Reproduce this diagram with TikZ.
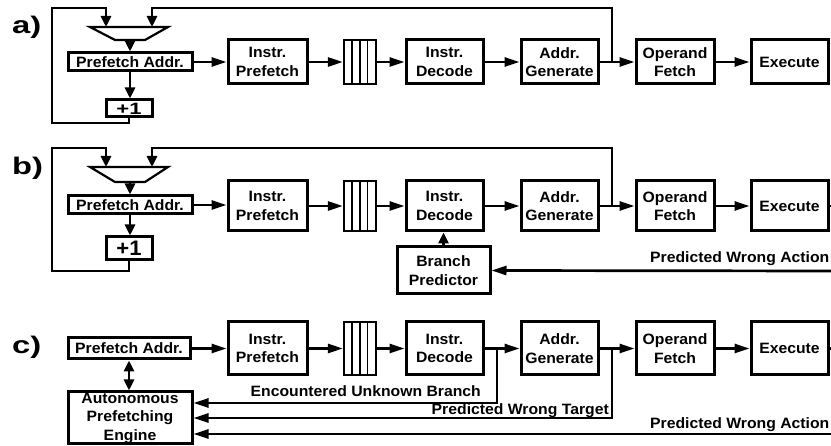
\documentclass[tikz,border=0pt]{standalone}
\usepackage{fontspec}
\setmainfont[FakeStretch=1.05]{Liberation Sans}
\usetikzlibrary{arrows.meta}

\begin{document}
\begin{tikzpicture}[x=1pt,y=-1pt,
  blk/.style={draw, line width=3pt, inner sep=0pt, align=center,
    font=\bfseries\fontsize{15}{18.5}\selectfont},
  inc/.style={blk, font=\bfseries\fontsize{21}{21}\selectfont},
  lbl/.style={inner sep=0pt, font=\bfseries\fontsize{15}{17}\selectfont},
  tag/.style={inner sep=0pt, font=\bfseries\fontsize{24}{24}\selectfont},
  wire/.style={line width=2.7pt},
  harr/.style={-{Triangle[length=15pt,width=9pt]}},
  varr/.style={-{Triangle[length=11pt,width=10pt]}},
  dbl/.style={{Triangle[length=11pt,width=10pt]}-{Triangle[length=11pt,width=10pt]}},
  muxline/.style={line width=2.2pt, line join=miter},
  queue/.style={draw, line width=2.2pt, inner sep=0pt, minimum width=32pt},
  qline/.style={line width=1.4pt}]

\useasboundingbox (0,0) rectangle (831,446);

% ---------------- a) ----------------
\node[tag, anchor=base west] (tag-a) at (12,34) {\scalebox{1.3}[1]{a)}};
\draw[muxline] (90,27) -- (168,27) -- (145,40) -- (115,40) -- cycle;
\coordinate (mi1-a) at (106,27);
\coordinate (mi2-a) at (152,27);
\coordinate (mo-a) at (130,40);
\node[blk, minimum width=124pt, minimum height=18pt] (pa-a) at (130,62) {Prefetch Addr.};
\node[inc, minimum width=46pt, minimum height=17pt] (inc-a) at (129,108.5) {\scalebox{1}[0.78]{+1}};
\node[blk, minimum width=79pt, minimum height=44pt] (ip-a) at (267.5,62) {Instr.\\Prefetch};
\node[queue, minimum height=44pt] (q-a) at (360,62) {};
\foreach \dx in {-8,0,7.5} \draw[qline] ([xshift=\dx pt]q-a.north) -- ([xshift=\dx pt]q-a.south);
\node[blk, minimum width=77pt, minimum height=44pt] (id-a) at (444.5,62) {Instr.\\Decode};
\node[blk, minimum width=77pt, minimum height=44pt] (ag-a) at (559.5,62) {Addr.\\Generate};
\node[blk, minimum width=78pt, minimum height=44pt] (of-a) at (675,62) {Operand\\Fetch};
\node[blk, minimum width=77pt, minimum height=44pt] (ex-a) at (789.5,62) {Execute};

\draw[wire,varr] (mo-a) -- (pa-a.north);
\draw[wire,varr] (pa-a.south) -- (pa-a.south |- inc-a.north);
\draw[wire,varr] (inc-a.south) -- (129,123) -- (52,123) -- (52,8) -- (106,8) -- (mi1-a);
\draw[wire,harr] (pa-a.east) -- (ip-a.west);
\draw[wire,harr] (ip-a.east) -- (q-a.west);
\draw[wire,harr] (q-a.east) -- (id-a.west);
\draw[wire,harr] (id-a.east) -- (ag-a.west);
\draw[wire,harr] (ag-a.east) -- (of-a.west);
\draw[wire,harr] (of-a.east) -- (ex-a.west);
\coordinate (fb-a) at (612,62);
\draw[wire,varr] (fb-a) -- (612,8) -- (152,8) -- (mi2-a);

% ---------------- b) ----------------
\node[tag, anchor=base west] (tag-b) at (12,175) {\scalebox{1.3}[1]{b)}};
\draw[muxline] (90,167) -- (168,167) -- (145,182) -- (115,182) -- cycle;
\coordinate (mi1-b) at (106,167);
\coordinate (mi2-b) at (152,167);
\coordinate (mo-b) at (130,182);
\node[blk, minimum width=124pt, minimum height=18pt] (pa-b) at (130,205) {Prefetch Addr.};
\node[inc, minimum width=46pt, minimum height=23pt] (inc-b) at (129,248.5) {+1};
\node[blk, minimum width=79pt, minimum height=50pt] (ip-b) at (267.5,206) {Instr.\\Prefetch};
\node[queue, minimum height=50pt] (q-b) at (360,206) {};
\foreach \dx in {-8,0,7.5} \draw[qline] ([xshift=\dx pt]q-b.north) -- ([xshift=\dx pt]q-b.south);
\node[blk, minimum width=77pt, minimum height=50pt] (id-b) at (444.5,206) {Instr.\\Decode};
\node[blk, minimum width=77pt, minimum height=50pt] (ag-b) at (559.5,206) {Addr.\\Generate};
\node[blk, minimum width=78pt, minimum height=50pt] (of-b) at (675,206) {Operand\\Fetch};
\node[blk, minimum width=77pt, minimum height=50pt] (ex-b) at (789.5,206) {Execute};
\node[blk, minimum width=93pt, minimum height=47pt] (bp) at (443.5,270.5) {Branch\\Predictor};

\draw[wire,varr] (mo-b) -- (pa-b.north);
\draw[wire,varr] (pa-b.south) -- (pa-b.south |- inc-b.north);
\draw[wire,varr] (inc-b.south) -- (129,271) -- (52,271) -- (52,148) -- (106,148) -- (mi1-b);
\draw[wire,harr] (pa-b.east) -- (pa-b.east -| ip-b.west);
\draw[wire,harr] (ip-b.east) -- (q-b.west);
\draw[wire,harr] (q-b.east) -- (id-b.west);
\draw[wire,harr] (id-b.east) -- (ag-b.west);
\draw[wire,harr] (ag-b.east) -- (of-b.west);
\draw[wire,harr] (of-b.east) -- (ex-b.west);
\coordinate (fb-b) at (612,206);
\draw[wire,varr] (fb-b) -- (612,148) -- (152,148) -- (mi2-b);
\draw[wire,varr] (bp.north) -- (bp.north |- id-b.south);
\coordinate (ex-b-out) at (833,206);
\draw[wire] (ex-b.east) -- (ex-b-out);
\coordinate (wa-b) at (833,271);
\draw[wire,harr] (wa-b) -- (bp.east);
\node[lbl, anchor=base west] (wa-b-lbl) at (650,263) {Predicted Wrong Action};

% ---------------- c) ----------------
\node[tag, anchor=base west] (tag-c) at (12,354) {\scalebox{1.3}[1]{c)}};
\node[blk, minimum width=122pt, minimum height=21pt] (pa-c) at (129,348.5) {Prefetch Addr.};
\node[blk, minimum width=124pt, minimum height=52pt] (ape) at (130,418) {Autonomous\\Prefetching\\Engine};
\node[blk, minimum width=79pt, minimum height=53pt] (ip-c) at (267.5,348.5) {Instr.\\Prefetch};
\node[queue, minimum height=53pt] (q-c) at (360,348.5) {};
\foreach \dx in {-8,0,7.5} \draw[qline] ([xshift=\dx pt]q-c.north) -- ([xshift=\dx pt]q-c.south);
\node[blk, minimum width=77pt, minimum height=53pt] (id-c) at (444.5,348.5) {Instr.\\Decode};
\node[blk, minimum width=77pt, minimum height=53pt] (ag-c) at (559.5,348.5) {Addr.\\Generate};
\node[blk, minimum width=78pt, minimum height=53pt] (of-c) at (675,348.5) {Operand\\Fetch};
\node[blk, minimum width=77pt, minimum height=53pt] (ex-c) at (789.5,348.5) {Execute};

\draw[wire,dbl] (pa-c.south) -- (pa-c.south |- ape.north);
\draw[wire,harr] (pa-c.east) -- (ip-c.west);
\draw[wire,harr] (ip-c.east) -- (q-c.west);
\draw[wire,harr] (q-c.east) -- (id-c.west);
\draw[wire,harr] (id-c.east) -- (ag-c.west);
\draw[wire,harr] (ag-c.east) -- (of-c.west);
\draw[wire,harr] (of-c.east) -- (ex-c.west);
\coordinate (ex-c-out) at (833,348.5);
\draw[wire] (ex-c.east) -- (ex-c-out);

\coordinate (ub) at (497,348.5);
\draw[wire,harr] (ub) -- (497,403) -- (ape.east |- 0,403);
\node[lbl, anchor=base east] (ub-lbl) at (481,397) {Encountered Unknown Branch};
\coordinate (wt) at (612,348.5);
\draw[wire,harr] (wt) -- (612,418) -- (ape.east);
\node[lbl, anchor=base east] (wt-lbl) at (609,415) {Predicted Wrong Target};
\coordinate (wa-c) at (833,434);
\draw[wire,harr] (wa-c) -- (ape.east |- wa-c);
\node[lbl, anchor=base west] (wa-c-lbl) at (650,429) {Predicted Wrong Action};
\end{tikzpicture}
\end{document}
